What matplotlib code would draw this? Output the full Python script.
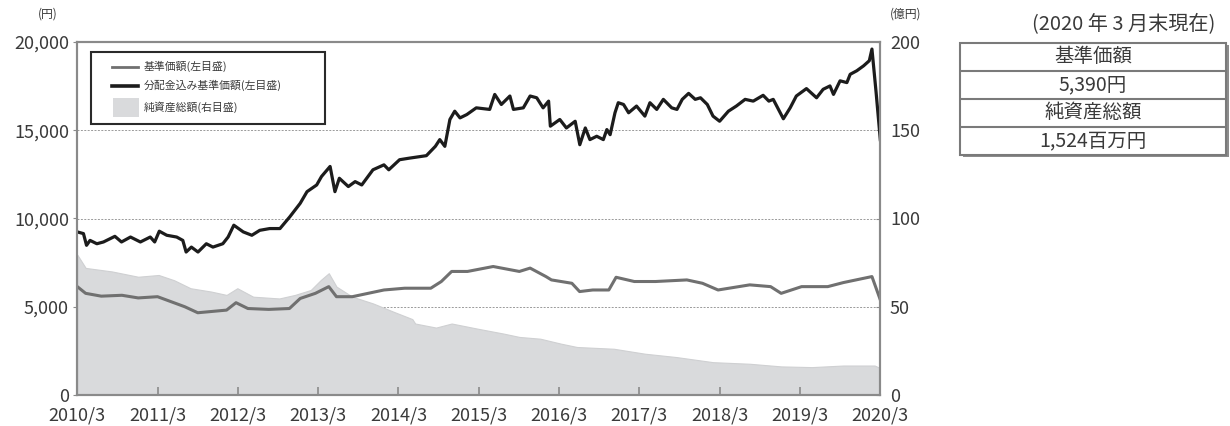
import matplotlib.pyplot as plt
from matplotlib.lines import Line2D
from matplotlib.patches import Rectangle
import pandas as pd

plt.rcParams['font.family'] = ['Noto Sans CJK JP', 'DejaVu Sans']

# 分配金込み基準価額 (円, 左目盛)
adj_dates = ["2010-03-31", "2010-04-28", "2010-05-12", "2010-05-28", "2010-06-28", "2010-07-28",
             "2010-09-18", "2010-10-18", "2010-11-28", "2011-01-12", "2011-02-26", "2011-03-18",
             "2011-04-08", "2011-05-12", "2011-06-26", "2011-07-24", "2011-08-08", "2011-09-01",
             "2011-10-01", "2011-11-08", "2011-12-08", "2012-01-22", "2012-02-15", "2012-03-12",
             "2012-04-24", "2012-06-02", "2012-07-08", "2012-08-22", "2012-10-08", "2012-11-22",
             "2013-01-08", "2013-02-08", "2013-03-24", "2013-04-15", "2013-05-24", "2013-06-15",
             "2013-07-05", "2013-08-15", "2013-09-15", "2013-10-15", "2013-12-05", "2014-01-24",
             "2014-02-15", "2014-04-05", "2014-05-20", "2014-08-05", "2014-09-15", "2014-10-05",
             "2014-10-28", "2014-11-20", "2014-12-12", "2015-01-05", "2015-02-05", "2015-03-20",
             "2015-05-20", "2015-06-12", "2015-07-12", "2015-08-20", "2015-09-05", "2015-10-20",
             "2015-11-20", "2015-12-20", "2016-01-18", "2016-02-12", "2016-02-20", "2016-04-03",
             "2016-05-03", "2016-06-12", "2016-07-03", "2016-07-28", "2016-08-18", "2016-09-18",
             "2016-10-18", "2016-11-03", "2016-11-18", "2016-12-10", "2016-12-25", "2017-01-18",
             "2017-02-10", "2017-03-18", "2017-04-25", "2017-05-18", "2017-06-18", "2017-07-18",
             "2017-08-25", "2017-09-18", "2017-10-12", "2017-11-10", "2017-12-10", "2018-01-03",
             "2018-02-03", "2018-03-01", "2018-03-31", "2018-05-10", "2018-06-15", "2018-07-25",
             "2018-08-31", "2018-10-15", "2018-11-10", "2018-11-30", "2019-01-15", "2019-02-15",
             "2019-03-15", "2019-04-30", "2019-06-15", "2019-07-15", "2019-08-15", "2019-08-31",
             "2019-09-30", "2019-10-31", "2019-11-15", "2019-12-15", "2020-01-15", "2020-02-10",
             "2020-02-22", "2020-03-12", "2020-03-31"]
adj_nav = [9240, 9145, 8480, 8760, 8570, 8670,
           8990, 8670, 8950, 8670, 8950, 8670,
           9280, 9050, 8950, 8760, 8100, 8380,
           8100, 8570, 8380, 8570, 8950, 9620,
           9240, 9050, 9330, 9430, 9430, 10100,
           10860, 11520, 11900, 12380, 12950, 11520,
           12280, 11810, 12090, 11900, 12760, 13040,
           12760, 13330, 13420, 13560, 14090, 14470,
           14090, 15610, 16080, 15700, 15890, 16270,
           16180, 17030, 16460, 16940, 16180, 16270,
           16940, 16840, 16270, 16650, 15230, 15610,
           15130, 15510, 14180, 15130, 14470, 14660,
           14470, 15040, 14750, 15990, 16560, 16460,
           15990, 16370, 15800, 16560, 16180, 16750,
           16270, 16180, 16750, 17090, 16750, 16840,
           16460, 15800, 15510, 16080, 16370, 16750,
           16650, 16980, 16650, 16750, 15650, 16270,
           16940, 17360, 16840, 17320, 17510, 17030,
           17800, 17700, 18170, 18370, 18650, 18940,
           19600, 17130, 14470]

# 基準価額 (円, 左目盛)
nav_dates = ["2010-03-31", "2010-05-08", "2010-07-18", "2010-10-20", "2011-01-02", "2011-03-31",
             "2011-08-02", "2011-09-30", "2012-02-08", "2012-03-22", "2012-05-15", "2012-08-18",
             "2012-11-20", "2013-01-08", "2013-03-18", "2013-05-18", "2013-06-22", "2013-09-02",
             "2014-01-24", "2014-04-28", "2014-08-25", "2014-10-12", "2014-11-28", "2015-02-08",
             "2015-06-05", "2015-10-02", "2015-11-20", "2016-01-31", "2016-02-25", "2016-05-28",
             "2016-07-02", "2016-08-31", "2016-11-12", "2016-12-15", "2017-03-08", "2017-06-12",
             "2017-11-02", "2018-01-12", "2018-03-24", "2018-08-15", "2018-11-18", "2019-01-05",
             "2019-04-08", "2019-08-05", "2019-10-15", "2020-02-22", "2020-03-31"]
nav = [6140, 5760, 5600, 5650, 5500, 5570,
       5000, 4660, 4810, 5230, 4900, 4850,
       4900, 5470, 5760, 6140, 5570, 5570,
       5950, 6050, 6050, 6430, 7000, 7000,
       7280, 7000, 7190, 6710, 6520, 6330,
       5860, 5950, 5950, 6670, 6430, 6430,
       6520, 6330, 5950, 6240, 6140, 5760,
       6140, 6140, 6370, 6710, 5390]

# 純資産総額 (億円, 右目盛)
aum_dates = ["2010-03-31", "2010-05-08", "2010-09-05", "2011-01-02", "2011-04-05", "2011-06-15",
             "2011-08-28", "2011-11-30", "2012-02-08", "2012-03-28", "2012-06-08", "2012-10-05",
             "2012-12-15", "2013-02-25", "2013-04-12", "2013-05-18", "2013-06-22", "2013-09-02",
             "2013-12-05", "2014-03-10", "2014-06-02", "2014-06-15", "2014-09-18", "2014-11-28",
             "2015-03-25", "2015-07-22", "2015-10-02", "2016-01-05", "2016-04-08", "2016-06-20",
             "2016-12-05", "2017-04-25", "2017-09-15", "2018-03-01", "2018-08-15", "2019-01-05",
             "2019-05-25", "2019-10-15", "2020-03-05", "2020-03-31"]
aum = [79.5, 72, 70, 67, 68, 65,
       60.5, 58.6, 56.7, 60.5, 55.7, 54.7,
       56.7, 59.5, 65.2, 69, 61.4, 55.7,
       51.9, 47.1, 43, 40.5, 38.2, 40.5,
       37.6, 34.8, 32.9, 31.9, 29.1, 27.2,
       26.2, 23.4, 21.5, 18.6, 17.7, 16.2,
       15.8, 16.7, 16.7, 15.24]

tick_years = list(range(2010, 2021))
legend_labels = ['基準価額(左目盛)', '分配金込み基準価額(左目盛)', '純資産総額(右目盛)']
table_rows = ["基準価額", "5,390円", "純資産総額", "1,524百万円"]

W, H = 1230, 426
def fx(x):
    return x / W
def fy(y):
    return 1 - y / H

TXT = '#3a3a3a'
GRAY_LINE = '#707070'
BLACK_LINE = '#1c1c1c'
AREA = '#d9dadc'

fig = plt.figure(figsize=(12.3, 4.26), dpi=100)
ax = fig.add_axes([fx(77.3), fy(395), fx(803), 353 / H])
ax2 = ax.twinx()
ax.set_zorder(ax2.get_zorder() + 1)
ax.patch.set_visible(False)

ax2.fill_between(pd.to_datetime(aum_dates), aum, 0, color=AREA, lw=0.8, edgecolor='#cfd0d2')
ax.plot(pd.to_datetime(nav_dates), nav, color=GRAY_LINE, lw=2.2)
ax.plot(pd.to_datetime(adj_dates), adj_nav, color=BLACK_LINE, lw=2.3)

ax.set_xlim(pd.Timestamp("2010-03-31"), pd.Timestamp("2020-03-31"))
ax.set_ylim(0, 20000)
ax2.set_ylim(0, 200)
ax.set_yticks([0, 5000, 10000, 15000, 20000])
ax.set_yticklabels(['0', '5,000', '10,000', '15,000', '20,000'])
ax2.set_yticks([0, 50, 100, 150, 200])
ax.set_xticks([pd.Timestamp(f"{y}-03-31") for y in tick_years])
ax.set_xticklabels([f"{y}/3" for y in tick_years])

ax2.grid(axis='y', color='#9a9a9a', ls=(0, (2, 1.5)), lw=0.7)
ax2.set_axisbelow(True)

for a in (ax, ax2):
    for s in a.spines.values():
        s.set_color('#8a8a8a')
        s.set_linewidth(1.5)
ax.tick_params(axis='x', direction='in', length=6, width=1.2, color='#8a8a8a',
               labelsize=13, labelcolor=TXT, pad=8)
ax.tick_params(axis='y', direction='out', length=3, color='#8a8a8a',
               labelsize=13, labelcolor=TXT, pad=3)
ax2.tick_params(axis='y', direction='in', length=3, color='#8a8a8a',
                labelsize=13, labelcolor=TXT, pad=7)

fig.text(fx(38), fy(14), '(円)', fontsize=8.5, color=TXT, ha='left', va='center')
fig.text(fx(890), fy(14), '(億円)', fontsize=8.5, color=TXT, ha='left', va='center')

# 凡例
fig.patches.append(Rectangle((fx(90.7), fy(124.3)), fx(325 - 90.7), 72 / H, transform=fig.transFigure,
                             facecolor='white', edgecolor='#2a2a2a', lw=1.5, zorder=5))
row_y = [66.7, 85.7, 106.7]
fig.lines.append(Line2D([fx(112), fx(138)], [fy(row_y[0])] * 2, transform=fig.transFigure,
                        color=GRAY_LINE, lw=2.0, zorder=6))
fig.lines.append(Line2D([fx(112), fx(138)], [fy(row_y[1])] * 2, transform=fig.transFigure,
                        color=BLACK_LINE, lw=2.6, zorder=6))
fig.patches.append(Rectangle((fx(112.7), fy(116.7)), fx(26.6), 18.4 / H, transform=fig.transFigure,
                             facecolor=AREA, edgecolor='none', zorder=6))
for yy, lab in zip(row_y, legend_labels):
    fig.text(fx(144), fy(yy), lab, fontsize=7.8, color=TXT, ha='left', va='center', zorder=7)

# 右側の表
fig.text(fx(1124), fy(25), '(2020 年 3 月末現在)', fontsize=14.5, color=TXT, ha='center', va='center')
tax = fig.add_axes([fx(960), fy(155), fx(269), 112 / H])
tax.set_xlim(0, 1)
tax.set_ylim(0, len(table_rows))
tax.axis('off')
tax.add_patch(Rectangle((0.012, -0.07), 0.988, len(table_rows), facecolor='#8c8c8c',
                        edgecolor='none', clip_on=False))
tax.add_patch(Rectangle((0, 0), 0.988, len(table_rows), facecolor='white',
                        edgecolor='#7a7a7a', lw=1.5, clip_on=False))
for i, row in enumerate(table_rows):
    yc = len(table_rows) - i - 0.5
    tax.text(0.494, yc, row, ha='center', va='center', fontsize=14, color=TXT)
    if i > 0:
        tax.plot([0, 0.988], [yc + 0.5, yc + 0.5], color='#7a7a7a', lw=1.5)

fig.savefig('out.png', dpi=100)
